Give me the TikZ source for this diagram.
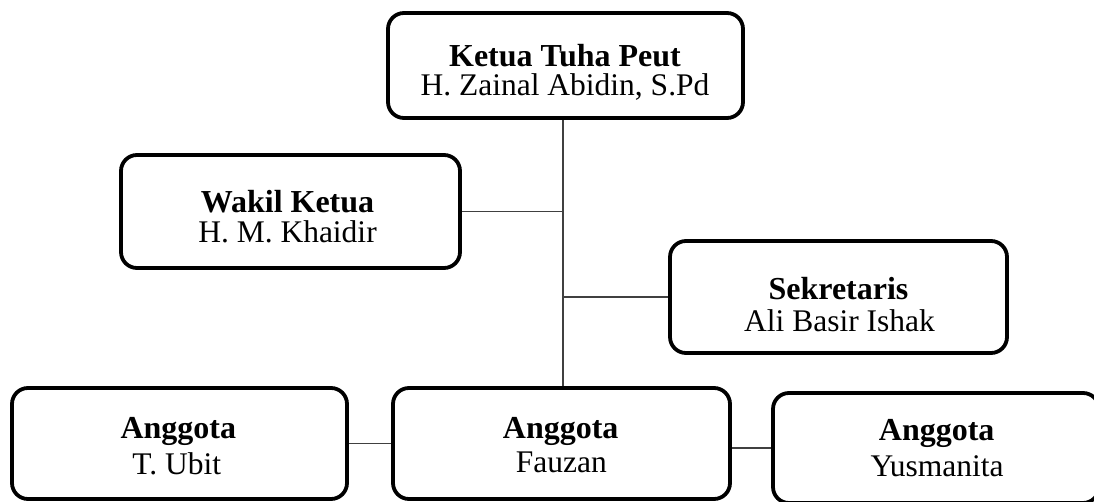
\documentclass[tikz,border=0pt]{standalone}
\usepackage{fontspec}
\setmainfont{Liberation Serif}
\begin{document}
\begin{tikzpicture}[x=1pt,y=-1pt,
  orgbox/.style={draw, line width=3.8pt, rounded corners=16pt, inner sep=0pt, fill=white},
  ttl/.style={anchor=base, inner sep=0pt, font=\fontsize{32}{36}\selectfont\bfseries},
  nm/.style={anchor=base, inner sep=0pt, font=\fontsize{31.5}{36}\selectfont},
  link/.style={line width=1.3pt, draw=black!75}
]
\useasboundingbox (0,0) rectangle (1094,502);
\clip (0,0) rectangle (1094,502);
\fill[white] (0,0) rectangle (1094,502);

\coordinate (sx) at (563,0);

% boxes
\node[orgbox, minimum width=355pt, minimum height=105pt] (top) at (565.5,65.5) {};
\node[orgbox, minimum width=339pt, minimum height=113pt] (wakil) at (290.5,211.5) {};
\node[orgbox, minimum width=337pt, minimum height=112pt] (sek) at (838.5,297) {};
\node[orgbox, minimum width=335pt, minimum height=111pt] (left) at (179.5,443.5) {};
\node[orgbox, minimum width=337pt, minimum height=111pt] (mid) at (561.5,443.5) {};
\node[orgbox, minimum width=326pt, minimum height=110pt] (right) at (936,448) {};

% connectors
\draw[link] (top.south -| sx) -- (mid.north -| sx);
\draw[link] (wakil.east) -- (wakil.east -| sx);
\draw[link] (sek.west) -- (sek.west -| sx);
\draw[link] (left.east) -- (mid.west);
\draw[link] (right.west) -- (right.west -| mid.east);

% texts
\node[ttl] (t1) at (565,66.7) {Ketua Tuha Peut};
\node[nm]  (n1) at (565,95.7) {H. Zainal Abidin, S.Pd};
\node[ttl] (t2) at (287.5,212.5) {Wakil Ketua};
\node[nm]  (n2) at (287.5,242.5) {H. M. Khaidir};
\node[ttl] (t3) at (838.5,300) {Sekretaris};
\node[nm]  (n3) at (839.5,331.7) {Ali Basir Ishak};
\node[ttl] (t4) at (178.3,438.3) {Anggota};
\node[nm]  (n4) at (176.7,474) {T. Ubit};
\node[ttl] (t5) at (560.7,438.3) {Anggota};
\node[nm]  (n5) at (561.3,472.3) {Fauzan};
\node[ttl] (t6) at (936.7,440) {Anggota};
\node[nm]  (n6) at (937,476) {Yusmanita};
\end{tikzpicture}
\end{document}
